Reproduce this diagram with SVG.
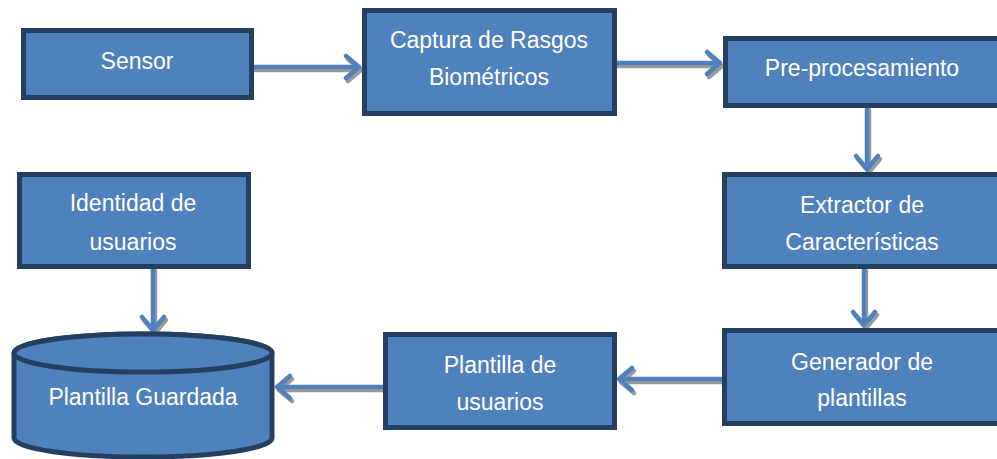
<svg xmlns="http://www.w3.org/2000/svg" width="997" height="459" viewBox="0 0 997 459">
<defs>
<style>
.box{fill:#4F81BD;stroke:#243F60;stroke-width:5}
.t{font-family:"Liberation Sans",Arial,sans-serif;font-size:23px;fill:#FFFFFF;text-anchor:middle}
.ln{fill:none;stroke:#4F81BD;stroke-width:4.5;stroke-linecap:round;stroke-linejoin:round}
.sh{fill:none;stroke:#9A9A9A;stroke-width:4.5;stroke-linecap:round;stroke-linejoin:round}
</style>
</defs>
<rect width="997" height="459" fill="#FFFFFF"/>
<g id="connectors">
<g transform="translate(2,3)">
<path class="sh" d="M253 67H359M346 56L359 67L346 78"/>
<path class="sh" d="M616 63H720M707 52L720 63L707 74"/>
<path class="sh" d="M867 107V169M856 156L867 169L878 156"/>
<path class="sh" d="M864 268V325M853 312L864 325L875 312"/>
<path class="sh" d="M722 379H619M632 368L619 379L632 390"/>
<path class="sh" d="M383 387H277M290 376L277 387L290 398"/>
<path class="sh" d="M153 268V330M142 317L153 330L164 317"/>
</g>
<path class="ln" d="M253 67H359M346 56L359 67L346 78"/>
<path class="ln" d="M616 63H720M707 52L720 63L707 74"/>
<path class="ln" d="M867 107V169M856 156L867 169L878 156"/>
<path class="ln" d="M864 268V325M853 312L864 325L875 312"/>
<path class="ln" d="M722 379H619M632 368L619 379L632 390"/>
<path class="ln" d="M383 387H277M290 376L277 387L290 398"/>
<path class="ln" d="M153 268V330M142 317L153 330L164 317"/>
</g>
<g id="sensor">
<rect class="box" x="23.5" y="30.5" width="228" height="67"/>
<text class="t" x="137" y="69">Sensor</text>
</g>
<g id="captura">
<rect class="box" x="364.5" y="10.5" width="250" height="103"/>
<text class="t" x="489" y="48">Captura de Rasgos</text>
<text class="t" x="489" y="85">Biométricos</text>
</g>
<g id="preprocesamiento">
<rect class="box" x="725.5" y="38.5" width="276" height="67"/>
<text class="t" x="862" y="76">Pre-procesamiento</text>
</g>
<g id="extractor">
<rect class="box" x="724.5" y="174.5" width="277" height="92"/>
<text class="t" x="862" y="213">Extractor de</text>
<text class="t" x="862" y="250">Características</text>
</g>
<g id="generador">
<rect class="box" x="724.5" y="330.5" width="277" height="93"/>
<text class="t" x="862" y="370">Generador de</text>
<text class="t" x="862" y="406">plantillas</text>
</g>
<g id="plantilla-usuarios">
<rect class="box" x="385.5" y="334.5" width="229" height="93"/>
<text class="t" x="500" y="373">Plantilla de</text>
<text class="t" x="500" y="410">usuarios</text>
</g>
<g id="identidad">
<rect class="box" x="19.5" y="174.5" width="229" height="92"/>
<text class="t" x="133" y="211">Identidad de</text>
<text class="t" x="133" y="250">usuarios</text>
</g>
<g id="plantilla-guardada">
<path class="box" d="M14 353V438A129 19 0 0 0 272 438V353A129 19 0 0 0 14 353Z"/>
<ellipse class="box" cx="143" cy="353" rx="129" ry="19"/>
<text class="t" x="143" y="405">Plantilla Guardada</text>
</g>
</svg>
